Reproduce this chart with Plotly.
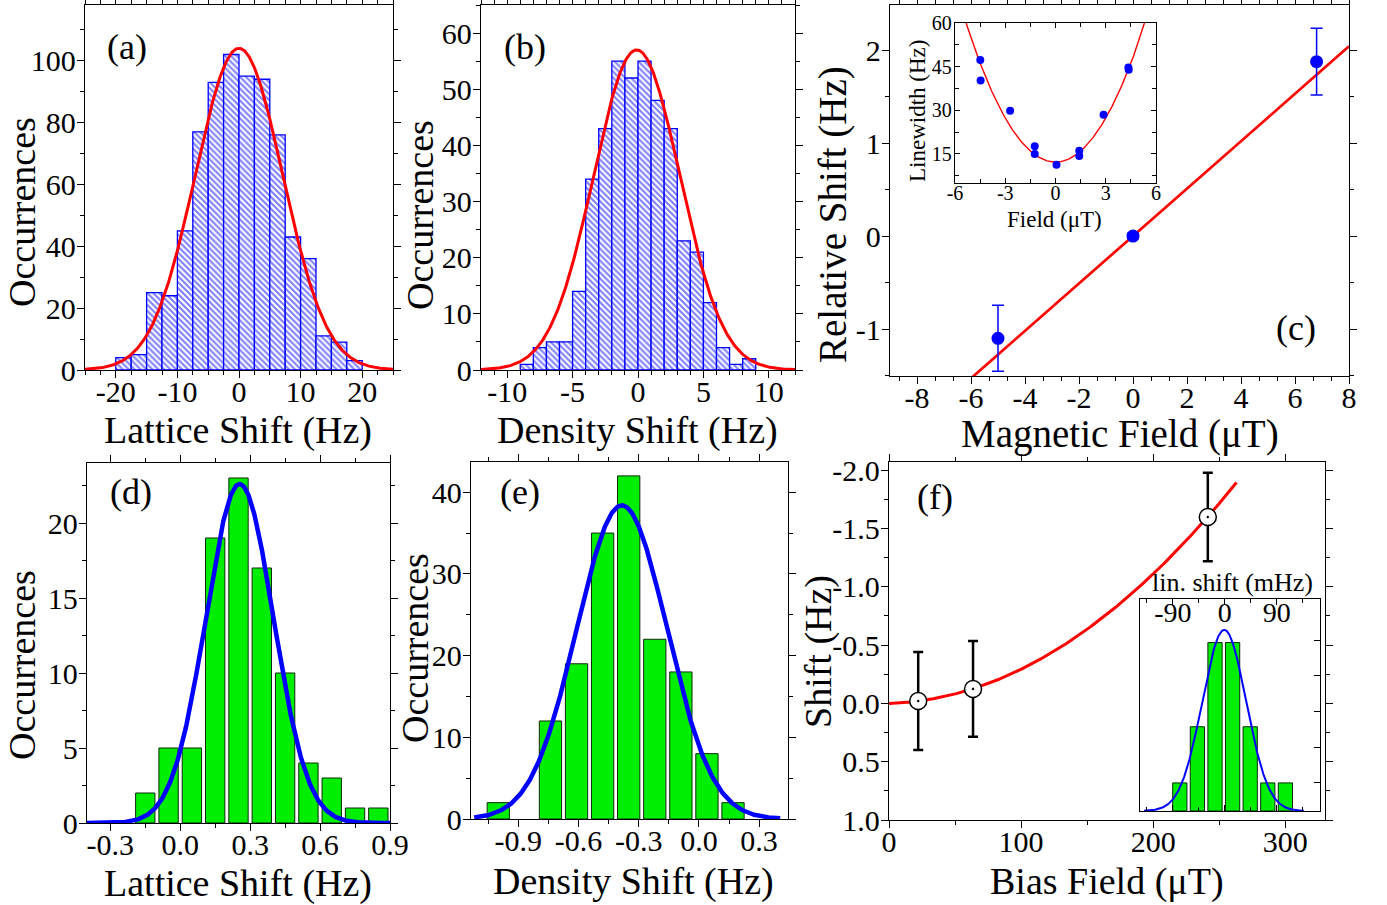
import numpy as np
import plotly.graph_objects as go

W, H = 1387, 905
FONT = "Liberation Serif, Times New Roman, serif"

# ---------------- data ----------------
# (a) lattice shift histogram, bin width 2.5 Hz
a_centers = [-18.75, -16.25, -13.75, -11.25, -8.75, -6.25, -3.75, -1.25,
             1.25, 3.75, 6.25, 8.75, 11.25, 13.75, 16.25, 18.75]
a_counts = [4, 5, 25, 24, 45, 77, 93, 102, 95, 94, 76, 43, 36, 11, 9, 3]
a_fit = dict(amp=104.0, mu=0.0, sigma=7.1)

# (b) density shift histogram, bin width 1 Hz
b_centers = [-8.5, -7.5, -6.5, -5.5, -4.5, -3.5, -2.5, -1.5, -0.5,
             0.5, 1.5, 2.5, 3.5, 4.5, 5.5, 6.5, 7.5, 8.5]
b_counts = [1, 4, 5, 5, 14, 34, 43, 55, 52, 55, 48, 43, 23, 21, 12, 4, 1, 2]
b_fit = dict(amp=57.0, mu=-0.1, sigma=3.3)

# (c) relative shift vs magnetic field
c_field = [-5.0, 0.0, 6.8]
c_shift = [-1.10, 0.0, 1.875]
c_err = [0.355, 0.03, 0.358]
c_slope = 0.255

# (c) inset: linewidth vs field
ci_field = [-4.49, -4.47, -2.71, -1.24, -1.24, 0.06, 1.42, 1.42, 2.87, 4.35, 4.37]
ci_width = [47.3, 40.2, 29.8, 17.6, 15.0, 11.3, 16.1, 14.3, 28.5, 44.7, 43.9]
ci_fit = dict(offset=12.2, curv=1.68, x0=0.0)

# (d) lattice shift histogram
d_centers = [-0.15, -0.05, 0.05, 0.15, 0.25, 0.35, 0.45, 0.55, 0.65, 0.75, 0.85]
d_counts = [2, 5, 5, 19, 23, 17, 10, 4, 3, 1, 1]
d_fit = dict(amp=22.6, mu=0.255, sigma=0.145)

# (e) density shift histogram
e_centers = [-1.00, -0.74, -0.61, -0.48, -0.35, -0.22, -0.09, 0.04, 0.17]
e_counts = [2, 12, 19, 35, 42, 22, 18, 8, 2]
e_fit = dict(amp=38.4, mu=-0.384, sigma=0.225)

# (f) shift vs bias field
f_field = [22.1, 63.6, 241.3]
f_shift = [-0.02, -0.124, -1.598]
f_err = [0.42, 0.41, 0.38]
f_fit = dict(lin=-0.00031, quad=-2.62e-5, xmax=263.0)

# (f) inset: linear shift histogram (mHz)
fi_centers = [-78, -47.5, -17, 13.5, 44, 74.5, 105]
fi_counts = [1, 3, 6, 6, 3, 1, 1]
fi_fit = dict(amp=6.45, mu=-1.0, sigma=38.0)

# tick labels
a_xt = [-20, -10, 0, 10, 20]
a_yt = [0, 20, 40, 60, 80, 100]
b_xt = [-10, -5, 0, 5, 10]
b_yt = [0, 10, 20, 30, 40, 50, 60]
c_xt = [-8, -6, -4, -2, 0, 2, 4, 6, 8]
c_yt = [-1, 0, 1, 2]
ci_xt = [-6, -3, 0, 3, 6]
ci_yt = [15, 30, 45, 60]
d_xt = [-0.3, 0.0, 0.3, 0.6, 0.9]
d_yt = [0, 5, 10, 15, 20]
e_xt = [-0.9, -0.6, -0.3, 0.0, 0.3]
e_yt = [0, 10, 20, 30, 40]
f_xt = [0, 100, 200, 300]
f_yt = [-2.0, -1.5, -1.0, -0.5, 0.0, 0.5, 1.0]
fi_xt = [-90, 0, 90]


def gauss(p, lo, hi, n=400):
    x = np.linspace(lo, hi, n)
    return x, p["amp"] * np.exp(-(x - p["mu"]) ** 2 / (2 * p["sigma"] ** 2))


def lab(vals, fmt="{:g}"):
    return [fmt.format(v) for v in vals]


def px(x):
    return x / W


def py(y):
    return 1 - y / H


fig = go.Figure()

BLUE = "#0000FF"
RED = "#FF0000"
GREEN = "#00EE00"
GREEN_EDGE = "#0b2a0b"

hatch = dict(color="white", line=dict(color=BLUE, width=1.3),
             pattern=dict(shape="\\", fgcolor=BLUE, bgcolor="white", size=4.2, solidity=0.5))
solid = dict(color=GREEN, line=dict(color=GREEN_EDGE, width=1))

# (a)
fig.add_trace(go.Bar(x=a_centers, y=a_counts, width=2.5, marker=hatch, xaxis="x", yaxis="y"))
gx, gy = gauss(a_fit, -25, 25)
fig.add_trace(go.Scatter(x=gx, y=gy, mode="lines", line=dict(color=RED, width=3), xaxis="x", yaxis="y"))

# (b)
fig.add_trace(go.Bar(x=b_centers, y=b_counts, width=1.0, marker=hatch, xaxis="x2", yaxis="y2"))
gx, gy = gauss(b_fit, -12, 12)
fig.add_trace(go.Scatter(x=gx, y=gy, mode="lines", line=dict(color=RED, width=3), xaxis="x2", yaxis="y2"))

# (c)
lx = np.array([-9.0, 8.0])
fig.add_trace(go.Scatter(x=lx, y=c_slope * lx, mode="lines", line=dict(color=RED, width=2.7),
                         xaxis="x3", yaxis="y3"))
fig.add_trace(go.Scatter(x=c_field, y=c_shift, mode="markers",
                         marker=dict(color=BLUE, size=13),
                         error_y=dict(type="data", array=c_err, color=BLUE, thickness=1.5, width=6),
                         xaxis="x3", yaxis="y3"))

# (c) inset
px_ = np.linspace(-6, 6, 300)
fig.add_trace(go.Scatter(x=px_, y=ci_fit["offset"] + ci_fit["curv"] * (px_ - ci_fit["x0"]) ** 2,
                         mode="lines", line=dict(color=RED, width=1.4), xaxis="x7", yaxis="y7"))
fig.add_trace(go.Scatter(x=ci_field, y=ci_width, mode="markers", marker=dict(color=BLUE, size=8),
                         xaxis="x7", yaxis="y7"))

# (d)
fig.add_trace(go.Bar(x=d_centers, y=d_counts, width=0.083, marker=solid, xaxis="x4", yaxis="y4"))
gx, gy = gauss(d_fit, -0.4, 0.9)
fig.add_trace(go.Scatter(x=gx, y=gy, mode="lines", line=dict(color=BLUE, width=4.5), xaxis="x4", yaxis="y4"))

# (e)
fig.add_trace(go.Bar(x=e_centers, y=e_counts, width=0.111, marker=solid, xaxis="x5", yaxis="y5"))
gx, gy = gauss(e_fit, -1.12, 0.405)
fig.add_trace(go.Scatter(x=gx, y=gy, mode="lines", line=dict(color=BLUE, width=4.5), xaxis="x5", yaxis="y5"))

# (f)
fx = np.linspace(0, f_fit["xmax"], 300)
fig.add_trace(go.Scatter(x=fx, y=f_fit["lin"] * fx + f_fit["quad"] * fx ** 2, mode="lines",
                         line=dict(color=RED, width=3), xaxis="x6", yaxis="y6"))
fig.add_trace(go.Scatter(x=f_field, y=f_shift, mode="markers",
                         marker=dict(symbol="circle-dot", color="white", size=17,
                                     line=dict(color="black", width=1.5)),
                         error_y=dict(type="data", array=f_err, color="black", thickness=2.5, width=5),
                         xaxis="x6", yaxis="y6"))

# (f) inset
fig.add_trace(go.Bar(x=fi_centers, y=fi_counts, width=24.7, marker=solid, xaxis="x8", yaxis="y8"))
gx, gy = gauss(fi_fit, -140, 137)
fig.add_trace(go.Scatter(x=gx, y=gy, mode="lines", line=dict(color=BLUE, width=2), xaxis="x8", yaxis="y8"))

tickfont = dict(family=FONT, size=30, color="black")
smallfont = dict(family=FONT, size=20, color="black")
insetfont = dict(family=FONT, size=28, color="black")


def axis(dom, rng, tv=None, tt=None, minor=None, font=tickfont, ticks="outside", **kw):
    d = dict(domain=dom, range=rng, showline=True, linecolor="black", linewidth=1.4,
             mirror="allticks", ticks=ticks, ticklen=7, tickwidth=1.3, tickcolor="black",
             showgrid=False, zeroline=False, tickfont=font, fixedrange=True, automargin=False)
    if tv is not None:
        d.update(tickmode="array", tickvals=tv, ticktext=tt)
    if minor is not None:
        d["minor"] = dict(tickmode="linear", tick0=0, dtick=minor, ticklen=4,
                          tickwidth=1.1, tickcolor="black", ticks=ticks, showgrid=False)
    d.update(kw)
    return d


def xd(l, r):
    return [px(l), px(r)]


def yd(t, b):
    return [py(b), py(t)]


XS = -12   # pull bottom tick labels towards the axis
YS = -5    # pull left tick labels towards the axis

layout = dict(
    width=W, height=H, margin=dict(l=0, r=0, t=0, b=0, pad=0), autosize=False,
    paper_bgcolor="white", plot_bgcolor="white", showlegend=False, barmode="overlay",
    font=dict(family=FONT, color="black"),
    xaxis=axis(xd(85, 393), [-25, 25], a_xt, lab(a_xt), 2.5, anchor="y", ticklabelstandoff=XS),
    yaxis=axis(yd(5, 370), [0, 118], a_yt, lab(a_yt), 10, anchor="x", ticklabelstandoff=YS),
    xaxis2=axis(xd(481, 795), [-12, 12], b_xt, lab(b_xt), 1, anchor="y2", ticklabelstandoff=XS),
    yaxis2=axis(yd(5, 370), [0, 65], b_yt, lab(b_yt), 5, anchor="x2", ticklabelstandoff=YS),
    xaxis3=axis(xd(890, 1349), [-9, 8], c_xt, lab(c_xt), 2 / 3, anchor="y3", ticklabelstandoff=XS),
    yaxis3=axis(yd(5, 376), [-1.505, 2.484], c_yt, lab(c_yt), 0.5, anchor="x3", ticklabelstandoff=YS),
    xaxis4=axis(xd(87, 390), [-0.4, 0.9], d_xt, lab(d_xt, "{:.1f}"), 0.15, anchor="y4",
                ticklabelstandoff=XS),
    yaxis4=axis(yd(463, 823), [0, 24], d_yt, lab(d_yt), 2.5, anchor="x4", ticklabelstandoff=YS),
    xaxis5=axis(xd(471, 788), [-1.136, 0.444], e_xt, lab(e_xt, "{:.1f}"), 0.15, anchor="y5",
                ticklabelstandoff=XS),
    yaxis5=axis(yd(462, 819), [0, 43.7], e_yt, lab(e_yt), 5, anchor="x5", ticklabelstandoff=YS),
    xaxis6=axis(xd(889, 1325), [0, 330], f_xt, lab(f_xt), 50, anchor="y6", ticklabelstandoff=XS),
    yaxis6=axis(yd(462, 820), [1.0, -2.07], f_yt, lab(f_yt, "{:.1f}"), 0.25, anchor="x6",
                ticklabelstandoff=YS),
    xaxis7=axis(xd(955, 1156), [-6, 6], ci_xt, lab(ci_xt), 1.5, font=smallfont,
                ticks="inside", anchor="y7", ticklen=5, ticklabelstandoff=-8),
    yaxis7=axis(yd(23, 183), [5, 60], ci_yt, lab(ci_yt), 7.5, font=smallfont,
                ticks="inside", anchor="x7", ticklen=5, ticklabelstandoff=-2),
    xaxis8=axis(xd(1140, 1320), [-147, 165], fi_xt, lab(fi_xt), 45, font=insetfont, ticks="inside",
                side="top", ticklabelposition="inside", anchor="y8", ticklen=6),
    yaxis8=dict(domain=yd(599, 811), range=[0, 7.55], anchor="x8", side="right",
                showline=True, linecolor="black", linewidth=1.3, mirror=True,
                ticks="inside", ticklen=6, tickwidth=1.1, tickcolor="black",
                tickmode="linear", tick0=1.0, dtick=1.27, showticklabels=False,
                showgrid=False, zeroline=False, fixedrange=True, automargin=False),
)
fig.update_layout(**layout)

annotations = []


def text(s, x, y, size, angle=0):
    annotations.append(dict(text=s, x=px(x), y=py(y), xref="paper", yref="paper",
                            showarrow=False, xanchor="center", yanchor="middle",
                            textangle=angle, font=dict(family=FONT, size=size, color="black")))


TS = 38
# axis titles
text("Lattice Shift (Hz)", 238, 430, TS)
text("Occurrences", 22, 212, TS, -90)
text("Density Shift (Hz)", 637, 430, TS)
text("Occurrences", 420, 215, TS, -90)
text("Magnetic Field (\u03bcT)", 1120, 434, 39)
text("Relative Shift (Hz)", 833, 215, 39, -90)
text("Lattice Shift (Hz)", 238, 883, TS)
text("Occurrences", 22, 665, TS, -90)
text("Density Shift (Hz)", 633, 881, TS)
text("Occurrences", 415, 648, TS, -90)
text("Bias Field (\u03bcT)", 1107, 881, TS)
text("Shift (Hz)", 818, 652, TS, -90)
text("Linewidth (Hz)", 917, 111, 23, -90)
text("Field (\u03bcT)", 1054, 219, 23)
text("lin. shift (mHz)", 1232, 582, 26)

# panel labels
text("(a)", 127, 47, 36)
text("(b)", 525, 47, 36)
text("(c)", 1296, 328, 36)
text("(d)", 131, 492, 36)
text("(e)", 520, 492, 36)
text("(f)", 935, 497, 36)

fig.update_layout(annotations=annotations)
fig.write_html("out.html")
